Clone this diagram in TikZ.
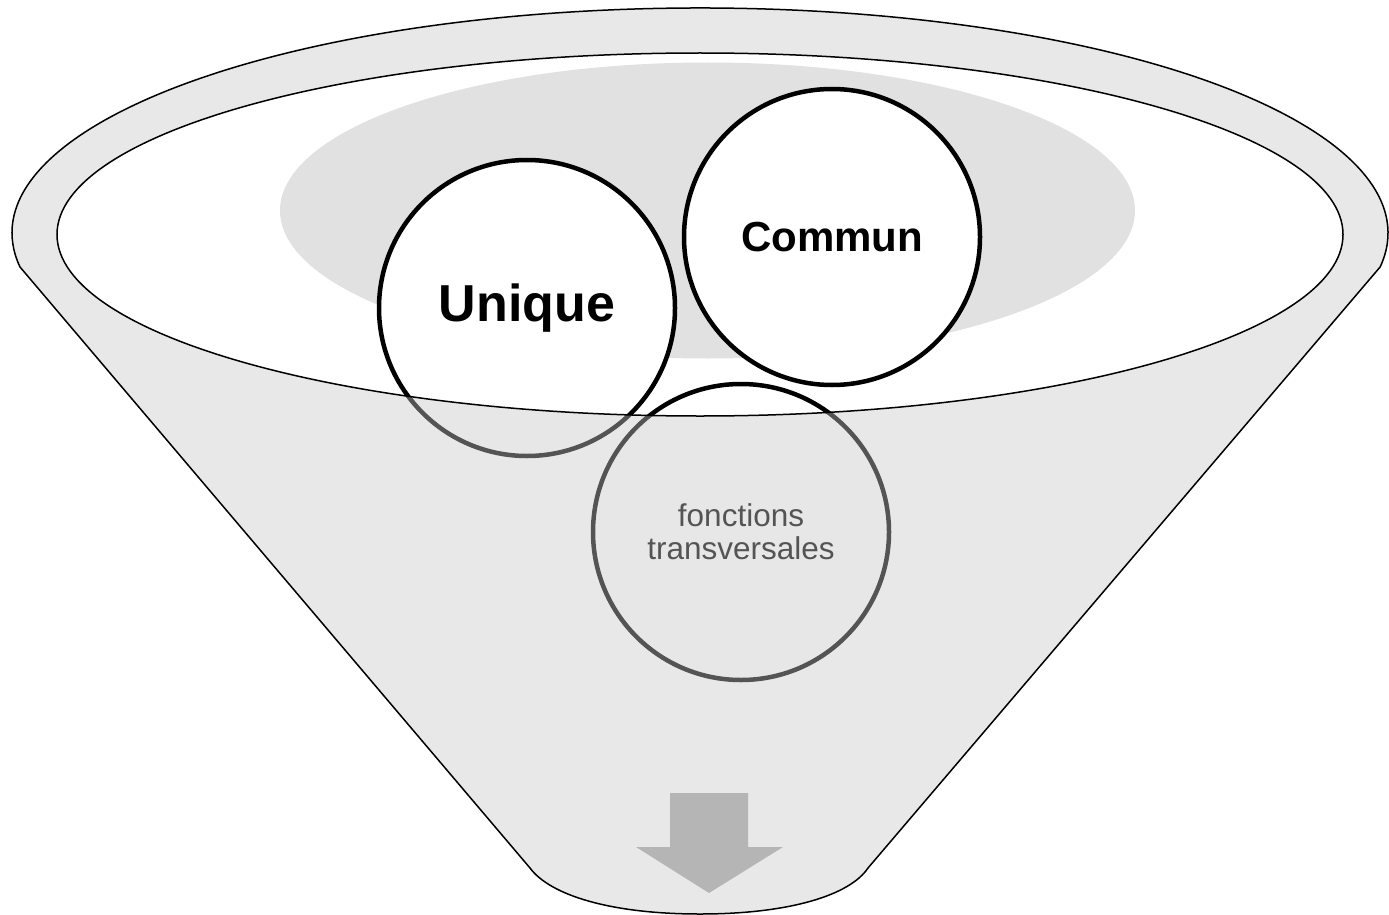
\documentclass[tikz,border=0pt]{standalone}
\usepackage{fontspec}
\setmainfont{Liberation Sans}
\usepackage{tikz}
\usepackage{xcolor}
\usetikzlibrary{positioning}
\definecolor{fnlgray}{RGB}{200, 200, 200}
\definecolor{fnlinner}{RGB}{225, 225, 225}
\definecolor{fnlarrow}{RGB}{181, 181, 181}
\tikzset{
    bubble/.style={circle, draw=black, fill=white, line width=4.5pt, minimum size=296pt, inner sep=0pt, align=center},
    bigbubble/.style={bubble, font=\fontsize{52}{60}\selectfont\bfseries},
    midbubble/.style={bubble, font=\fontsize{42}{50}\selectfont\bfseries},
    smallbubble/.style={bubble, font=\fontsize{31.5}{33}\selectfont},
    funnelfront/.style={fill=fnlgray, fill opacity=0.424, draw=black, line width=1.5pt, even odd rule}
}

\begin{document}
\begin{tikzpicture}[x=1pt, y=1pt]
    \useasboundingbox (0,0) rectangle (1389,-915);
    \fill[fnlinner] (707.5,-210.5) ellipse [x radius=427.5, y radius=148];
    \node[bigbubble] (unique) at (527,-308) {Unique};
    \node[midbubble] (commun) at (832,-237) {Commun};
    \node[smallbubble] (fonctions) at (741,-532) {fonctions\\transversales};
    \path[funnelfront] (20,-267)
        arc[start angle=188.7, end angle=-8.7, x radius=688, y radius=225]
        -- (868,-868) .. controls (850,-895) and (790,-914) .. (700,-914)
        .. controls (610,-914) and (550,-895) .. (530,-868) -- cycle
        (700,-234.5) ellipse [x radius=643, y radius=181.5];
    \fill[fnlarrow] (670,-793) -- (748,-793) -- (748,-847) -- (783,-847)
        -- (709,-893) -- (636,-847) -- (670,-847) -- cycle;
\end{tikzpicture}
\end{document}
